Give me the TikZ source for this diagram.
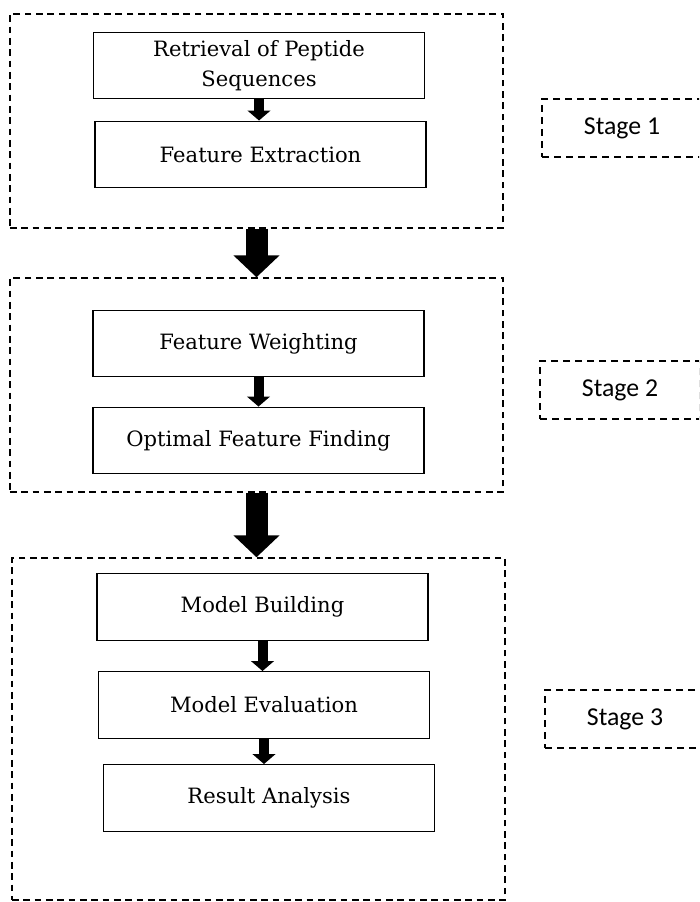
\documentclass[tikz,border=0pt]{standalone}
\usepackage{fontspec}
\setmainfont{DejaVu Serif}
\newfontfamily\stagefont{Carlito}
\usetikzlibrary{arrows.meta}

\tikzset{
  stagebox/.style={draw, line width=1.2pt, dash pattern=on 0.2cm off 0.14cm,
    minimum width=14.79cm, minimum height=6.42cm},
  stepbox/.style={draw, line width=1.1pt, minimum width=9.93cm,
    minimum height=2cm, align=center, font=\fontsize{18}{26}\selectfont},
  labelbox/.style={draw, line width=1.2pt, dash pattern=on 0.22cm off 0.14cm,
    minimum width=4.8cm, minimum height=1.74cm, font=\stagefont\fontsize{22}{24}\selectfont},
  smallarrow/.style={line width=0.3cm, -{Triangle[width=0.68cm,length=0.3cm]}},
  bigarrow/.style={line width=0.66cm, -{Triangle[width=1.35cm,length=0.66cm]}}
}

\begin{document}
\begin{tikzpicture}[x=0.03cm, y=-0.03cm]
\clip (0,0) rectangle (699,902);
\useasboundingbox (0,0) rectangle (699,902);
% dashed stage frames
\node[stagebox] (stageA) at (256.5,121) {};
\node[stagebox] (stageB) at (256.5,385) {};
\node[stagebox, minimum height=10.26cm] (stageC) at (258.5,729) {};
% steps
\node[stepbox] (retrieval) at (259,65.5) {Retrieval of Peptide\\Sequences};
\node[stepbox] (extract) at (260.5,154.5) {Feature Extraction};
\node[stepbox] (weight) at (258.5,343.5) {Feature Weighting};
\node[stepbox] (optimal) at (258.5,440.5) {Optimal Feature Finding};
\node[stepbox] (build) at (262.5,607) {Model Building};
\node[stepbox] (evaluate) at (264,705) {Model Evaluation};
\node[stepbox] (result) at (269,798) {Result Analysis};
% stage labels
\node[labelbox] (labA) at (622,128) {Stage 1};
\node[labelbox] (labB) at (620,390) {Stage 2};
\node[labelbox] (labC) at (625,719) {Stage 3};
% arrows
\draw[smallarrow] (retrieval.south) -- (retrieval.south |- extract.north);
\draw[smallarrow] (weight.south) -- (weight.south |- optimal.north);
\draw[smallarrow] (build.south) -- (build.south |- evaluate.north);
\draw[smallarrow] (evaluate.south) -- (evaluate.south |- result.north);
\draw[bigarrow] (stageA.south) -- (stageA.south |- stageB.north);
\draw[bigarrow] (stageB.south) -- (stageB.south |- stageC.north);
\end{tikzpicture}
\end{document}
